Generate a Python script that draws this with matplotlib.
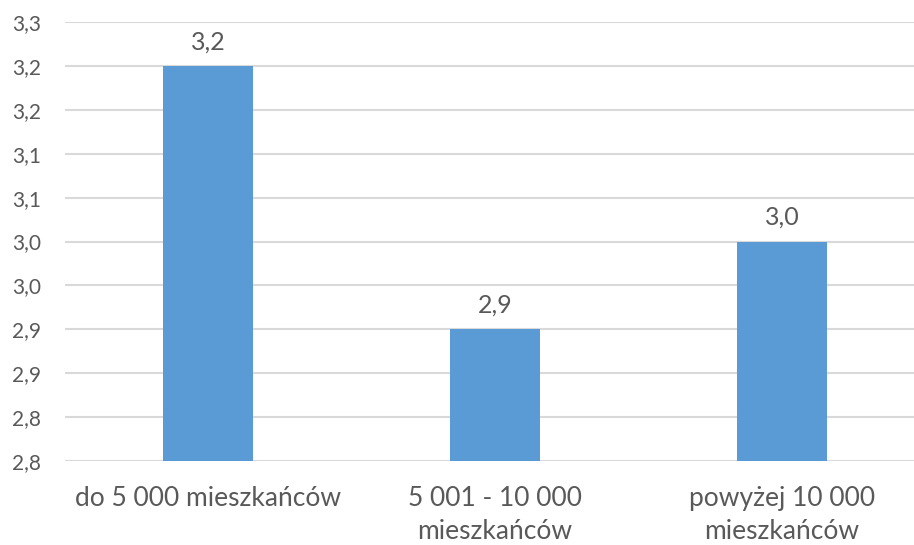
import numpy as np
import matplotlib.pyplot as plt

# Dane: średnia wartość wg wielkości miejscowości
kategorie = ["do 5 000 mieszkańców", "5 001 - 10 000\nmieszkańców", "powyżej 10 000\nmieszkańców"]
wartosci = [3.2, 2.9, 3.0]
y_ticks = [2.75, 2.80, 2.85, 2.90, 2.95, 3.00, 3.05, 3.10, 3.15, 3.20, 3.25]
y_etykiety = ["2,8", "2,8", "2,9", "2,9", "3,0", "3,0", "3,1", "3,1", "3,2", "3,2", "3,3"]

KOLOR_SLUPKA = "#5B9BD5"
KOLOR_TEKSTU = "#595959"
KOLOR_SIATKI = "#D9D9D9"

plt.rcParams['font.family'] = ['Lato', 'DejaVu Sans']

fig = plt.figure(figsize=(9.14, 5.45), dpi=100)
ax = fig.add_axes([64.5 / 914, 84 / 545, 1 - 64.5 / 914, 439 / 545])

x = np.arange(len(kategorie))
ax.bar(x, wartosci, width=0.314, color=KOLOR_SLUPKA, zorder=3)

# Etykiety wartości nad słupkami
for xi, v in zip(x, wartosci):
    ax.annotate(f"{v:.1f}".replace(".", ","), (xi, v), xytext=(0, 9),
                textcoords="offset points", ha="center", va="bottom",
                fontsize=18, color=KOLOR_TEKSTU)

ax.set_ylim(2.75, 3.25)
ax.set_xlim(-0.5, -0.5 + (914 - 64.5) / 287)
ax.set_yticks(y_ticks)
ax.set_yticklabels(y_etykiety)
ax.set_xticks(x)
ax.set_xticklabels(kategorie, linespacing=1.4)

ax.grid(axis="y", color=KOLOR_SIATKI, linewidth=1.5, zorder=0)
for s in ax.spines.values():
    s.set_visible(False)
ax.tick_params(axis="both", length=0, colors=KOLOR_TEKSTU)
ax.tick_params(axis="y", labelsize=15, pad=17)
ax.tick_params(axis="x", labelsize=19, pad=18)

fig.savefig("out.png", dpi=100)
